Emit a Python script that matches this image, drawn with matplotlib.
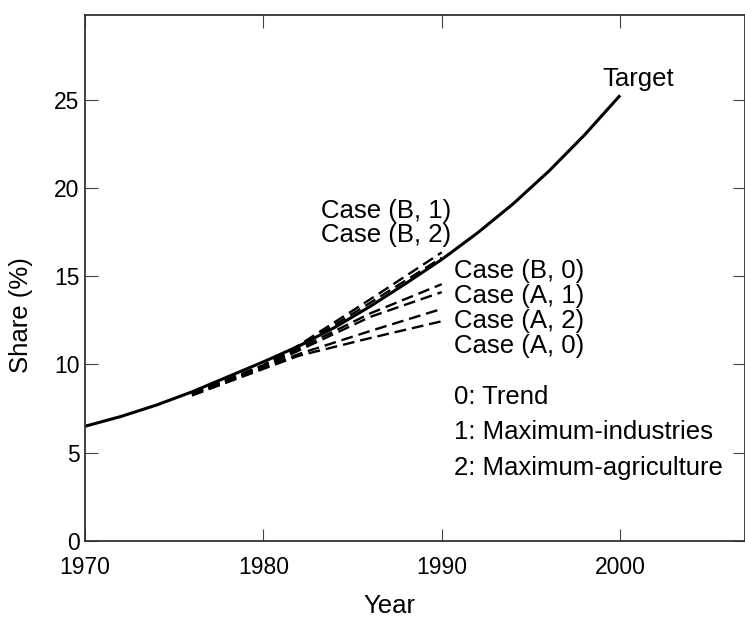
import matplotlib
matplotlib.use("Agg")
import matplotlib.pyplot as plt

plt.rcParams["font.family"] = ["Liberation Sans", "DejaVu Sans"]

# target path (solid)
target_years = [1970, 1972, 1974, 1976, 1978, 1980, 1982, 1984, 1986, 1988,
                1990, 1992, 1994, 1996, 1998, 2000]
target_share = [6.5, 7.05, 7.7, 8.45, 9.3, 10.15, 11.05, 12.1, 13.3, 14.6,
                15.95, 17.45, 19.1, 20.95, 23.0, 25.25]

# cases (dashed)
case_years = [1976, 1980, 1982, 1986, 1990]
case_names = ["Case (B, 1)", "Case (B, 2)", "Case (B, 0)",
              "Case (A, 1)", "Case (A, 2)", "Case (A, 0)"]
case_b1 = [8.35, 9.95, 11.1, 13.7, 16.35]
case_b2 = [8.35, 9.95, 11.0, 13.5, 16.05]
case_b0 = [8.3, 9.9, 10.9, 12.9, 14.55]
case_a1 = [8.3, 9.85, 10.8, 12.7, 14.1]
case_a2 = [8.25, 9.8, 10.6, 11.9, 13.15]
case_a0 = [8.25, 9.75, 10.5, 11.5, 12.45]
cases = [case_b1, case_b2, case_b0, case_a1, case_a2, case_a0]

key_lines = ["0: Trend", "1: Maximum-industries", "2: Maximum-agriculture"]

fs = 18.5

fig = plt.figure(figsize=(7.45, 6.2), dpi=100)
ax = fig.add_axes([85 / 745, 79 / 620, 660 / 745, 526 / 620])

ax.plot(target_years, target_share, color="black", lw=2.2, solid_capstyle="butt")
for vals in cases:
    ax.plot(case_years, vals, color="black", lw=1.7, linestyle=(0, (5, 2.5)))

ax.set_xlim(1970, 2007)
ax.set_ylim(0, 29.8)
ax.set_xticks([1970, 1980, 1990, 2000])
ax.set_yticks([0, 5, 10, 15, 20, 25])
ax.tick_params(direction="in", length=9, width=0.8, top=True, right=True,
               labelsize=16.5, color="#444444")
ax.tick_params(axis="x", pad=11)
ax.tick_params(axis="y", pad=4)
for sp in ax.spines.values():
    sp.set_linewidth(1.3)
    sp.set_color("#333333")

ax.set_ylabel("Share (%)", fontsize=fs)
ax.yaxis.set_label_coords(-0.079, 0.43)
ax.set_xlabel("Year", fontsize=fs)
ax.xaxis.set_label_coords(0.462, -0.1)

ax.text(2001.0, 26.2, "Target", fontsize=fs, ha="center", va="center")
ax.text(1986.9, 18.7, case_names[0], fontsize=fs, ha="center", va="center")
ax.text(1986.9, 17.35, case_names[1], fontsize=fs, ha="center", va="center")
for i, name in enumerate(case_names[2:]):
    ax.text(1990.7, 15.3 - i * 1.42, name, fontsize=fs, ha="left", va="center")
for i, line in enumerate(key_lines):
    ax.text(1990.7, 8.15 - i * 2.0, line, fontsize=fs, ha="left", va="center")

fig.savefig("out.png", dpi=100)
